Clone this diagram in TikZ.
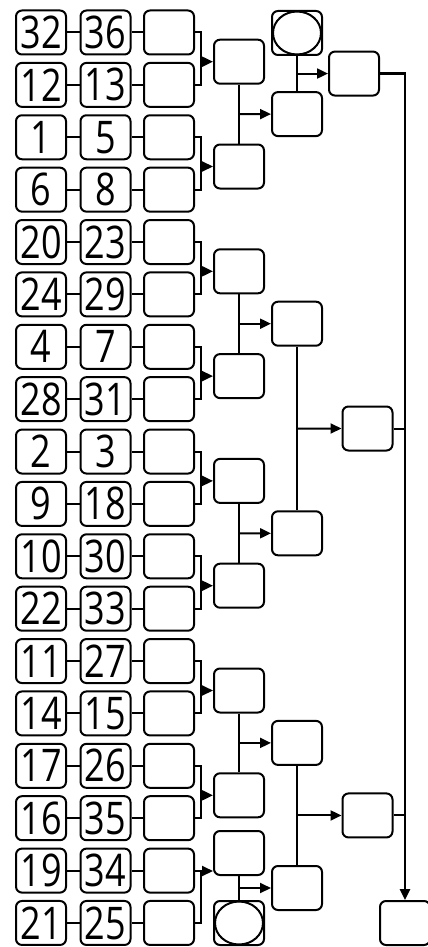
\documentclass[tikz,border=0pt]{standalone}
\usepackage{fontspec}
\newfontfamily\numfont[FakeStretch=0.8]{Open Sans}
\usetikzlibrary{arrows.meta,calc}
\tikzset{
  box/.style={draw, line width=2pt, rounded corners=6pt, minimum width=50pt, minimum height=44pt, inner sep=0pt, font=\numfont\fontsize{45}{45}\selectfont},
  ln/.style={line width=2pt},
  arr/.style={line width=2pt, -{Triangle[length=11pt,width=10pt]}},
  byering/.style={line width=2pt},
}
\begin{document}
\begin{tikzpicture}[x=1pt,y=-1pt]
\useasboundingbox (0,0) rectangle (428,947);
% rows
\foreach \a/\b [count=\i] in {32/36,12/13,1/5,6/8,20/23,24/29,4/7,28/31,2/3,9/18,10/30,22/33,11/27,14/15,17/26,16/35,19/34,21/25} {
  \pgfmathsetmacro\yy{32.5+52.38*(\i-1)}
  \node[box] (p\i) at (41,\yy) {\a};
  \node[box] (q\i) at (105.5,\yy) {\b};
  \node[box] (s\i) at (169,\yy) {};
  \draw[ln] (p\i) -- (q\i);
  \draw[ln] (q\i) -- (s\i);
}
% level A
\foreach \k/\y/\u/\v in {1/61.7/1/2, 2/166.5/3/4, 3/271.3/5/6, 4/376.1/7/8, 5/480.9/9/10, 6/585.7/11/12, 7/690.5/13/14, 8/795.3/15/16} {
  \node[box] (A\k) at (239,\y) {};
  \coordinate (j\k) at (201,\y);
  \draw[ln] (s\u.east) -| (j\k) |- (s\v.east);
  \draw[arr] (j\k) -- (A\k.west);
}
\node[box] (A9) at (239,853) {};
\coordinate (j9) at (201,871);
\draw[ln] (s17.east) -| (j9) |- (s18.east);
\draw[arr] (j9) -- (j9 -| A9.west);
% byes
\node[box] (T) at (297,33) {};
\draw[byering] (T.center) ellipse [x radius=24pt, y radius=21.5pt];
\node[box] (Z) at (239,923) {};
\draw[byering] (Z.center) ellipse [x radius=24pt, y radius=21.5pt];
% level B
\node[box] (B1) at (297,114.1) {};
\node[box] (B2) at (297,323.7) {};
\node[box] (B3) at (297,533.3) {};
\node[box] (B4) at (297,742.9) {};
\node[box] (B5) at (297,888) {};
\draw[ln] (A1) -- (A2); \draw[arr] ($(A1)!0.5!(A2)$) -- (B1);
\draw[ln] (A3) -- (A4); \draw[arr] ($(A3)!0.5!(A4)$) -- (B2);
\draw[ln] (A5) -- (A6); \draw[arr] ($(A5)!0.5!(A6)$) -- (B3);
\draw[ln] (A7) -- (A8); \draw[arr] ($(A7)!0.5!(A8)$) -- (B4);
\draw[ln] (A9) -- (Z);  \draw[arr] ($(A9)!0.5!(Z)$) -- (B5);
% level C
\node[box] (C1) at (354,73.55) {};
\node[box] (C2) at (367.5,428.5) {};
\node[box] (C3) at (367.5,815.45) {};
\draw[ln] (T) -- (B1);  \draw[arr] ($(T)!0.5!(B1)$) -- (C1);
\draw[ln] (B2) -- (B3); \draw[arr] ($(B2)!0.5!(B3)$) -- (C2);
\draw[ln] (B4) -- (B5); \draw[arr] ($(B4)!0.5!(B5)$) -- (C3);
% final
\node[box] (F) at (405,923) {};
\coordinate (v) at (405,73.55);
\draw[line width=2.5pt, -{Triangle[length=11pt,width=10pt]}] (C1.east) -- (v) -- (F.north);
\draw[ln] (C2.east) -- (C2.east -| v);
\draw[ln] (C3.east) -- (C3.east -| v);
\end{tikzpicture}
\end{document}
